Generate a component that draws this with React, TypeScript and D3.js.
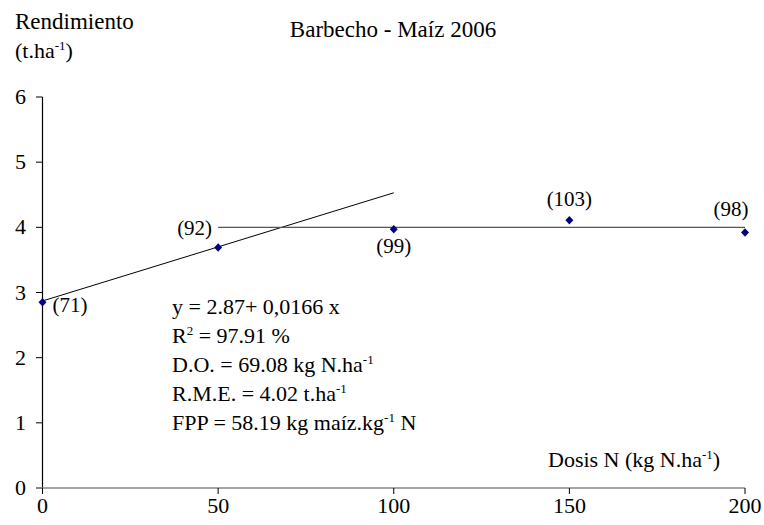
import React from "react";
import * as d3 from "d3";

// Nitrogen dose trial (kg N/ha) and maize yield (t/ha)
const doses = [0, 50, 100, 150, 200];
const yields = [2.85, 3.69, 3.97, 4.11, 3.92];
const relLabels = ["(71)", "(92)", "(99)", "(103)", "(98)"];
const yTicks = [0, 1, 2, 3, 4, 5, 6];
const xTicks = [0, 50, 100, 150, 200];

// linear-plateau model
const intercept = 2.87;
const slope = 0.0166;
const linearEnd = 100;
const plateau = 4.0;
const plateauStart = 50;

const W = 764;
const H = 525;
const FONT = "Liberation Serif";
const FS = 22;
const SUP = 13;

export default function App() {
  const x = d3.scaleLinear().domain([0, 200]).range([42.5, 745]);
  const y = d3.scaleLinear().domain([0, 6]).range([488, 97]);

  // label offsets relative to each point: dx, dy (to text centre line), anchor
  const labelPos: [number, number, string][] = [
    [10, 3, "start"],
    [-6, -20, "end"],
    [0, 17, "middle"],
    [0, -21, "middle"],
    [-14, -24, "middle"],
  ];

  const diamond = d3.symbol().type(d3.symbolDiamond).size(32)();

  const annot = [
    { t: "y = 2.87+ 0,0166 x", sup: "", after: "" },
    { t: "R", sup: "2", after: " = 97.91 %" },
    { t: "D.O. = 69.08 kg N.ha", sup: "-1", after: "" },
    { t: "R.M.E. = 4.02 t.ha", sup: "-1", after: "" },
    { t: "FPP = 58.19 kg maíz.kg", sup: "-1", after: " N" },
  ];

  return (
    <svg width={W} height={H} fontFamily={FONT} style={{ position: "absolute", left: 0, top: 0, background: "#fff" }}>
      <rect width={W} height={H} fill="#fff" />
      {/* titles */}
      <text x={393} y={37} fontSize={23} textAnchor="middle">Barbecho - Maíz 2006</text>
      <text x={15} y={29} fontSize={23}>Rendimiento</text>
      <text x={15} y={58} fontSize={FS}>
        (t.ha<tspan fontSize={SUP} dy={-8}>-1</tspan><tspan dy={8}>)</tspan>
      </text>

      {/* y axis */}
      <line x1={42.5} x2={42.5} y1={y(6)} y2={y(0)} stroke="#000" strokeWidth={1.2} />
      {yTicks.map((t) => (
        <g key={t}>
          <line x1={36} x2={42.5} y1={y(t)} y2={y(t)} stroke="#000" />
          <text x={26} y={y(t) + 7} fontSize={FS} textAnchor="end">{t}</text>
        </g>
      ))}

      {/* x axis */}
      <line x1={36} x2={x(200)} y1={y(0)} y2={y(0)} stroke="#888" strokeWidth={1.6} />
      {xTicks.map((t) => (
        <g key={t}>
          <line x1={x(t)} x2={x(t)} y1={y(0)} y2={y(0) + 6} stroke="#000" />
          <text x={x(t)} y={513} fontSize={FS} textAnchor="middle">{t}</text>
        </g>
      ))}

      {/* model lines */}
      <line x1={x(0)} y1={y(intercept)} x2={x(linearEnd)} y2={y(intercept + slope * linearEnd)} stroke="#000" strokeWidth={1} />
      <line x1={x(plateauStart)} y1={y(plateau)} x2={x(200)} y2={y(plateau)} stroke="#555" strokeWidth={1.2} />

      {/* observed points */}
      {doses.map((d, i) => (
        <g key={d}>
          <path d={diamond} transform={`translate(${x(d)},${y(yields[i])}) scale(1.3,0.8)`} fill="#000080" />
          <text
            x={x(d) + labelPos[i][0]}
            y={y(yields[i]) + labelPos[i][1] + 7}
            fontSize={FS - 1}
            textAnchor={labelPos[i][2] as any}
          >
            {relLabels[i]}
          </text>
        </g>
      ))}

      {/* model statistics */}
      {annot.map((a, i) => (
        <text key={i} x={172} y={314 + i * 29} fontSize={FS}>
          {a.t}
          {a.sup && <tspan fontSize={SUP} dy={-8}>{a.sup}</tspan>}
          {a.after && <tspan dy={a.sup ? 8 : 0}>{a.after}</tspan>}
        </text>
      ))}

      <text x={548} y={467} fontSize={FS}>
        Dosis N (kg N.ha<tspan fontSize={SUP} dy={-8}>-1</tspan><tspan dy={8}>)</tspan>
      </text>
    </svg>
  );
}
